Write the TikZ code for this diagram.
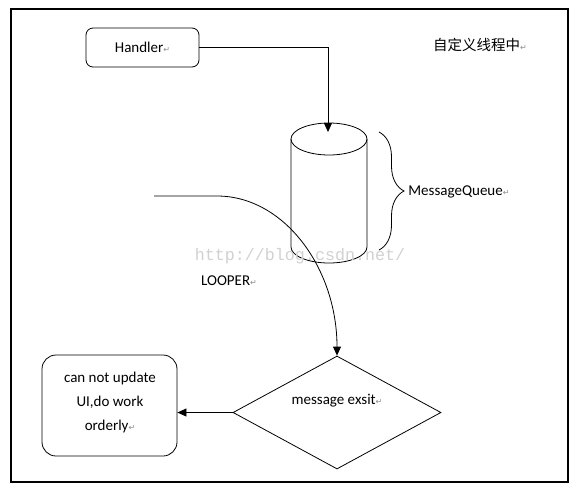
\documentclass[tikz,border=0pt]{standalone}
\usepackage{fontspec}
\setmainfont{Carlito}
\newfontfamily\cjk{Noto Sans CJK SC}
\newfontfamily\symfont{DejaVu Sans}
\newfontfamily\wmfont{Liberation Mono}
\usetikzlibrary{shapes.geometric,arrows.meta,decorations.pathreplacing}
\newcommand{\pmark}{{\symfont\fontsize{8}{8}\selectfont\color{black!45}↵}}

\begin{document}
\begin{tikzpicture}[x=1pt, y=-1pt, line width=0.8pt, every node/.style={font=\fontsize{15}{18}\selectfont}, arrow/.style={-{Triangle[length=9pt,width=8pt]}}, roundbox/.style={draw, rounded corners=7pt, inner sep=0pt}, decision/.style={draw, diamond, aspect=1.84, minimum width=208pt, minimum height=113pt, inner sep=0pt}]
  \useasboundingbox (0,0) rectangle (580,491);
  \draw[line width=1.2pt] (11,9) rectangle (568,482);
  % nodes
  \node[roundbox, minimum width=113pt, minimum height=39pt] (handler) at (142.5,47.5) {Handler\pmark};
  \node (thread) at (480,45) {\cjk\fontsize{14.5}{16}\selectfont 自定义线程中\pmark};
  % message queue cylinder
  \coordinate (queue) at (329,194);
  \draw (329,139) ellipse [x radius=38, y radius=16];
  \draw (291,139) -- (291,247) arc [start angle=180, end angle=0, x radius=38, y radius=16] -- (367,139);
  \coordinate (qtop) at (328,132);
  \draw[decorate, decoration={brace, amplitude=25pt}] (379,132) -- (379,250);
  \node[anchor=west, inner sep=0pt] (mq) at (408,192) {MessageQueue\pmark};
  \node[text=black!18, font=\wmfont\fontsize{16.7}{18}\selectfont, inner sep=0pt] (wm) at (300,256) {http://blog.csdn.net/};
  \node (looper) at (229,281) {LOOPER\pmark};
  \coordinate (loopstart) at (154,196);
  \node[decision] (exist) at (337,412.5) {};
  \node (msg) at ([yshift=12pt]exist.center) {message exsit\pmark};
  \node[roundbox, rounded corners=14pt, minimum width=135pt, minimum height=101pt] (ui) at (109.5,405.5) {};
  \node[align=center, font=\fontsize{15}{24}\selectfont] (uitext) at (110,402) {can not update\\UI,do work\\ orderly\pmark};
  % connectors
  \draw[arrow] (handler.east) -| (qtop);
  \draw[arrow] (loopstart) -- (217,196) .. controls (284,196) and (337,268) .. (exist.north);
  \draw[arrow] (exist.west) -- (exist.west -| ui.east);
\end{tikzpicture}
\end{document}
